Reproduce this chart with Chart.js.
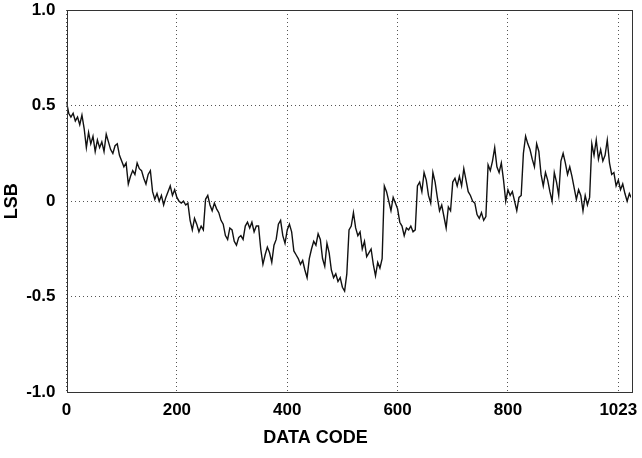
<!DOCTYPE html>
<html>
<head>
<meta charset="utf-8">
<script src="https://cdn.jsdelivr.net/npm/chart.js@4"></script>
<style>
  html, body { margin: 0; padding: 0; background: #fff; }
  #wrap { width: 642px; height: 458px; }
</style>
</head>
<body>
<div id="wrap"><canvas id="inlChart" width="642" height="458"></canvas></div>
<script>
// INL (LSB), one value every 4 codes, last one at code 1023
const codeStep = 4
const lastCode = 1023
const inl = [
  0.52, 0.46, 0.44, 0.46, 0.42, 0.44,
  0.40, 0.45, 0.38, 0.28, 0.36, 0.30, 0.34,
  0.26, 0.32, 0.28, 0.31, 0.26, 0.35, 0.31,
  0.27, 0.25, 0.29, 0.30, 0.24, 0.21, 0.18,
  0.20, 0.09, 0.13, 0.16, 0.14, 0.20, 0.17,
  0.16, 0.12, 0.09, 0.14, 0.16, 0.05, 0.01,
  0.04, 0.00, 0.03, -0.02, 0.02, 0.05, 0.08,
  0.03, 0.06, 0.02, 0.00, -0.01, 0.00, -0.02,
  -0.01, -0.10, -0.15, -0.09, -0.12, -0.16, -0.13,
  -0.15, 0.01, 0.03, -0.02, -0.05, -0.01, -0.04,
  -0.06, -0.10, -0.12, -0.18, -0.20, -0.14, -0.15,
  -0.21, -0.23, -0.19, -0.18, -0.20, -0.13, -0.11,
  -0.14, -0.11, -0.16, -0.13, -0.13, -0.25, -0.33,
  -0.28, -0.24, -0.27, -0.32, -0.23, -0.20, -0.12,
  -0.10, -0.18, -0.22, -0.15, -0.12, -0.16, -0.26,
  -0.28, -0.30, -0.33, -0.31, -0.36, -0.40, -0.30,
  -0.25, -0.21, -0.23, -0.17, -0.20, -0.30, -0.34,
  -0.22, -0.27, -0.36, -0.40, -0.38, -0.42, -0.40,
  -0.45, -0.47, -0.38, -0.15, -0.13, -0.06, -0.14,
  -0.18, -0.16, -0.25, -0.21, -0.29, -0.27, -0.25,
  -0.33, -0.39, -0.32, -0.35, -0.30, 0.08, 0.05,
  0.00, -0.05, 0.02, -0.01, -0.04, -0.11, -0.13,
  -0.18, -0.14, -0.15, -0.13, -0.16, -0.15, 0.08,
  0.10, 0.05, 0.15, 0.11, 0.03, -0.01, 0.15,
  0.10, 0.02, -0.05, -0.02, -0.08, -0.14, -0.03,
  -0.05, 0.10, 0.12, 0.08, 0.13, 0.08, 0.17,
  0.11, 0.05, 0.03, 0.00, -0.01, -0.07, -0.09,
  -0.06, -0.10, -0.08, 0.19, 0.16, 0.21, 0.28,
  0.18, 0.15, 0.20, 0.11, 0.00, 0.06, 0.03,
  0.05, 0.00, -0.05, 0.02, 0.03, 0.25, 0.34,
  0.30, 0.27, 0.22, 0.18, 0.30, 0.26, 0.14,
  0.08, 0.15, 0.11, 0.05, 0.00, 0.15, 0.10,
  0.03, 0.21, 0.25, 0.20, 0.14, 0.18, 0.13,
  0.07, 0.01, 0.06, 0.03, -0.05, 0.03, -0.02,
  0.02, 0.30, 0.24, 0.32, 0.22, 0.27, 0.21,
  0.24, 0.32, 0.20, 0.14, 0.15, 0.08, 0.11,
  0.06, 0.09, 0.04, 0.00, 0.04, 0.02
]
const xTicks = [0, 200, 400, 600, 800, 1000]
const xTickText = ['0', '200', '400', '600', '800', '1023']
const yTicks = [-1, -0.5, 0, 0.5, 1]
const yTickText = ['-1.0', '-0.5', '0', '0.5', '1.0']

const points = inl.map((v, i) => ({x: Math.min(i * codeStep, lastCode), y: v}))

const tickFont = {family: 'Liberation Sans', size: 17, weight: 'bold'}
const titleFont = {family: 'Liberation Sans', size: 18, weight: 'bold'}

// solid frame around the plot area (chart.js only draws left/bottom borders)
const frameBox = {
  id: 'frameBox',
  afterDatasetsDraw(chart) {
    const {ctx, chartArea: a} = chart
    ctx.save()
    ctx.strokeStyle = '#333'
    ctx.lineWidth = 1
    ctx.strokeRect(Math.round(a.left) + 0.5, Math.round(a.top) + 0.5,
      Math.round(a.right - a.left), Math.round(a.bottom - a.top))
    ctx.restore()
  }
}

new Chart(document.getElementById('inlChart'), {
  type: 'line',
  data: {
    datasets: [{
      data: points,
      borderColor: '#111',
      borderWidth: 1.4,
      pointRadius: 0,
      tension: 0
    }]
  },
  options: {
    responsive: false,
    animation: false,
    layout: {padding: {left: 0, right: 11, top: 10, bottom: 0}},
    plugins: {
      legend: {display: false},
      tooltip: {enabled: false},
      title: {
        display: true,
        position: 'bottom',
        text: 'DATA CODE',
        color: '#000',
        font: titleFont,
        padding: {top: 4, bottom: 9}
      }
    },
    scales: {
      x: {
        type: 'linear',
        min: 0,
        max: lastCode,
        afterBuildTicks: s => { s.ticks = xTicks.map(v => ({value: v})) },
        afterFit: s => { s.height = 31; s.paddingLeft = 0; s.paddingRight = 0 },
        ticks: {
          autoSkip: false,
          maxRotation: 0,
          padding: 8,
          color: '#000',
          font: tickFont,
          callback: v => xTickText[xTicks.indexOf(v)]
        },
        grid: {color: '#555', lineWidth: 1, drawTicks: false},
        border: {display: false, dash: [1, 3]}
      },
      y: {
        min: -1,
        max: 1,
        afterBuildTicks: s => { s.ticks = yTicks.map(v => ({value: v})) },
        afterFit: s => { s.width = 66.5; s.paddingTop = 0; s.paddingBottom = 0 },
        ticks: {
          padding: 11,
          color: '#000',
          font: tickFont,
          callback: v => yTickText[yTicks.indexOf(v)]
        },
        grid: {color: '#555', lineWidth: 1, drawTicks: false},
        border: {display: false, dash: [1, 3]},
        title: {
          display: true,
          text: 'LSB',
          color: '#000',
          font: titleFont,
          padding: {top: 1, bottom: 0}
        }
      }
    }
  },
  plugins: [frameBox]
})
</script>
</body>
</html>
